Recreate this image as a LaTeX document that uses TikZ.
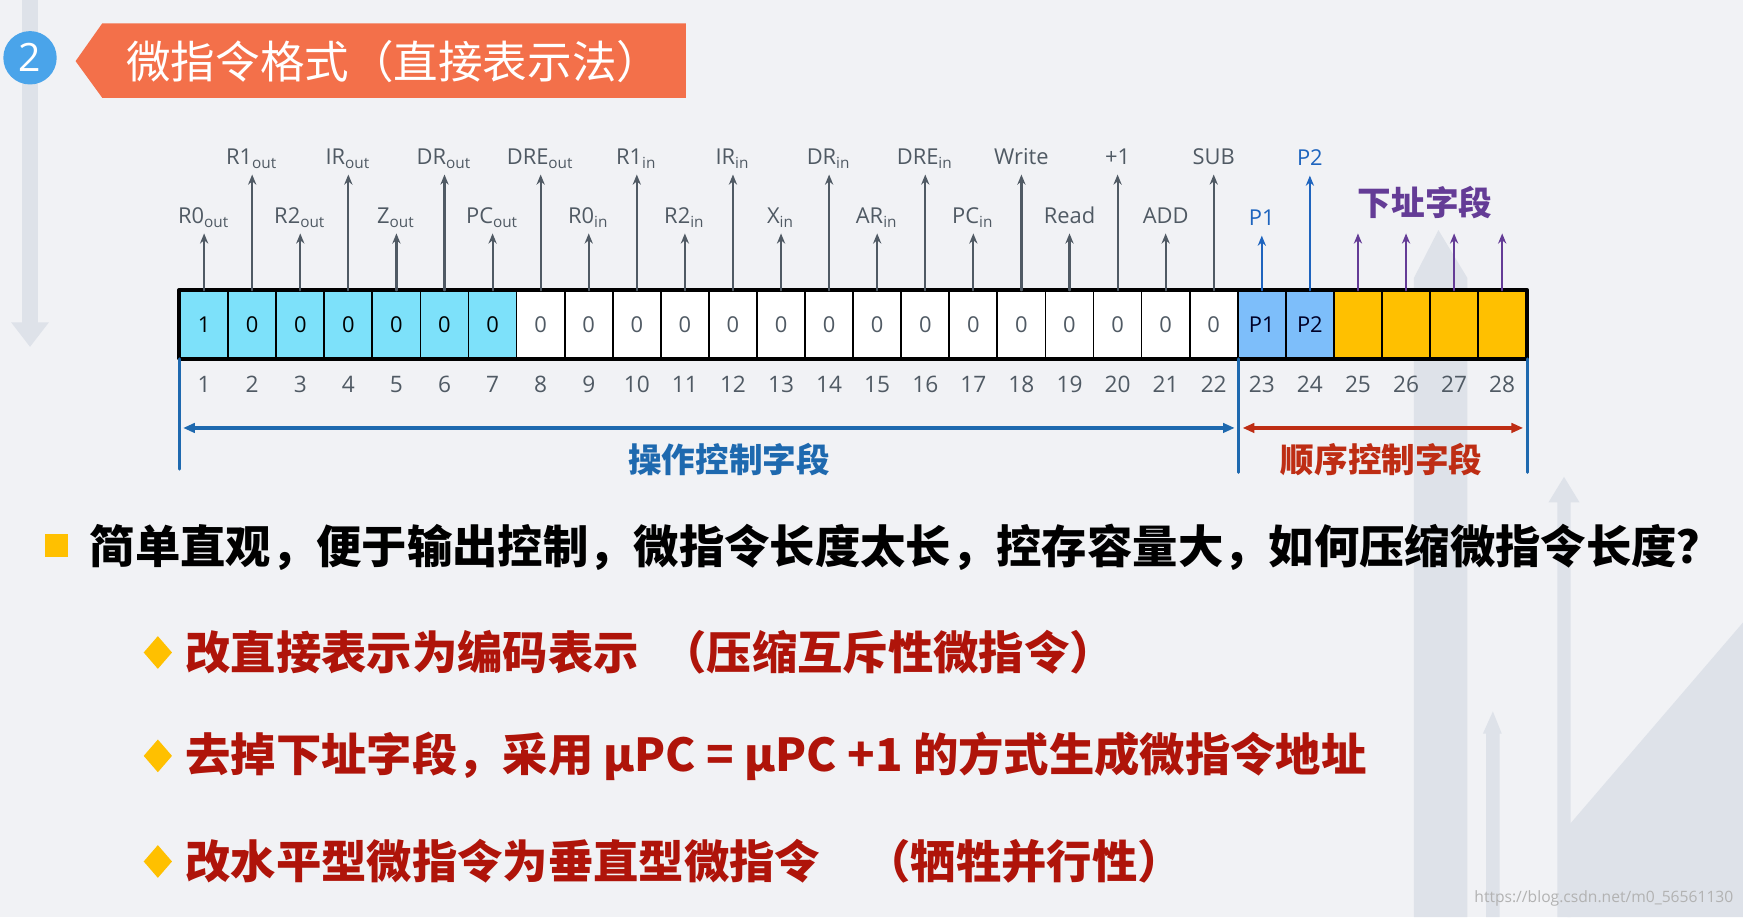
\documentclass[tikz,border=0pt]{standalone}
\usepackage{fontspec}
\setmainfont{Open Sans}
\newfontfamily\cjk{Noto Sans CJK SC}
\usetikzlibrary{arrows.meta,shapes.geometric}

\definecolor{bgcol}{RGB}{241,242,245}
\definecolor{decor}{RGB}{222,226,233}
\definecolor{banner}{RGB}{243,112,74}
\definecolor{badge}{RGB}{74,164,234}
\definecolor{sigcol}{RGB}{80,90,100}
\definecolor{cyancell}{RGB}{125,225,250}
\definecolor{pcell}{RGB}{125,190,250}
\definecolor{gold}{RGB}{255,192,0}
\definecolor{pblue}{RGB}{30,100,190}
\definecolor{addrcol}{RGB}{100,60,150}
\definecolor{opblue}{RGB}{30,105,175}
\definecolor{seqred}{RGB}{190,45,20}
\definecolor{darkred}{RGB}{175,20,10}

\begin{document}
\begin{tikzpicture}[
		x=0.01cm, y={(0cm,-0.01cm)},
		line cap=round,
		line join=round,
		cell/.style={draw, line width=0.45pt, minimum width=0.4325cm, minimum height=0.6cm,
			inner sep=0pt, font=\fontsize{5.6}{6}\selectfont},
		siglab/.style={anchor=south, inner sep=1pt, text=sigcol, text depth=1.3pt,
			font=\fontsize{5.6}{6}\selectfont},
		sig/.style={draw=sigcol, line width=0.55pt, -{Stealth[length=2.6pt,width=2.1pt]}},
		numlab/.style={text=sigcol, inner sep=0pt, font=\fontsize{5.8}{6}\selectfont},
		fieldname/.style={inner sep=0pt, font=\cjk\bfseries\fontsize{8.6}{9}\selectfont},
		bodytext/.style={anchor=west, inner sep=0pt, font=\cjk\bfseries\fontsize{11.6}{12}\selectfont},
		fieldline/.style={draw=opblue, line width=0.75pt}
		]
		% =========================
		% Register parameters
		% =========================
		\def\Xo{162}
		\def\W{43.25}
		
		% --------------------------------
		% Background
		% --------------------------------
		\fill[bgcol] (0,0) rectangle (1568,825);
		\useasboundingbox (0,0) rectangle (1568,825);
		\fill[decor] (20,0) rectangle (34,290) -- (44,290) -- (27,312) -- (10,290) -- (20,290) -- cycle;
		\fill[decor] (1272,825) -- (1272,250) -- (1294,207) -- (1320,250) -- (1320,825) -- cycle;
		\fill[decor] (1401,825) -- (1401,452) -- (1393,452) -- (1407,429) -- (1421,452) -- (1413,452) -- (1413,825) -- cycle;
		\fill[decor] (1337,825) -- (1337,660) -- (1334,660) -- (1343,640) -- (1351,660) -- (1349,660) -- (1349,825) -- cycle;
		\fill[decor] (1410,825) -- (1410,744) -- (1568,560) -- (1568,825) -- cycle;
		
		% --------------------------------
		% Heading
		% --------------------------------
		\fill[banner] (68,55) -- (92,21) -- (617,21) -- (617,88) -- (92,88) -- cycle;
		\node[circle, fill=badge, minimum size=0.48cm, inner sep=0pt, text=white,
		font=\fontsize{10}{11}\selectfont] (badge) at (27,52) {2};
		\node[anchor=west, inner sep=0pt, text=white, font=\cjk\fontsize{11.4}{12}\selectfont]
		(title) at (113,55) {微指令格式（直接表示法）};
		
		% --------------------------------
		% Register cells
		% --------------------------------
		\foreach \i/\bit in {1/1,2/0,3/0,4/0,5/0,6/0,7/0}
		\node[cell, fill=cyancell] (c\i) at ({\Xo+(\i-0.5)*\W},292) {\bit};
		\foreach \i in {8,...,22}
		\node[cell, fill=white, text=sigcol] (c\i) at ({\Xo+(\i-0.5)*\W},292) {0};
		\foreach \i/\bit in {23/P1,24/P2}
		\node[cell, fill=pcell, text=black!85!blue] (c\i) at ({\Xo+(\i-0.5)*\W},292) {\bit};
		\foreach \i in {25,...,28}
		\node[cell, fill=gold] (c\i) at ({\Xo+(\i-0.5)*\W},292) {};
		\draw[line width=1.1pt] (c1.north west) rectangle (c28.south east);
		
		% bit numbers
		\foreach \i in {1,...,28}
		\node[numlab] (n\i) at ({\Xo+(\i-0.5)*\W},346) {\i};
		
		% --------------------------------
		% Control signals
		% --------------------------------
		\foreach \i/\lab in {
			1/R0\textsubscript{out}, 2/R1\textsubscript{out}, 3/R2\textsubscript{out},
			4/IR\textsubscript{out}, 5/Z\textsubscript{out}, 6/DR\textsubscript{out},
			7/PC\textsubscript{out}, 8/DRE\textsubscript{out}, 9/R0\textsubscript{in},
			10/R1\textsubscript{in}, 11/R2\textsubscript{in}, 12/IR\textsubscript{in},
			13/X\textsubscript{in}, 14/DR\textsubscript{in}, 15/AR\textsubscript{in},
			16/DRE\textsubscript{in}, 17/PC\textsubscript{in}, 18/Write,
			19/Read, 20/+1, 21/ADD, 22/SUB}
		{
			\pgfmathsetmacro\ly{mod(\i,2)==1 ? 210 : 157}
			\node[siglab] (l\i) at ({\Xo+(\i-0.5)*\W},\ly) {\lab};
			\draw[sig] (c\i.north) -- (l\i.south);
		}
		
		% condition bits
		\node[siglab, text=pblue] (l23) at ({\Xo+22.5*\W},212) {P1};
		\node[siglab, text=pblue] (l24) at ({\Xo+23.5*\W},158) {P2};
		\foreach \i in {23,24}
		\draw[sig, draw=pblue] (c\i.north) -- (l\i.south);
		
		% next address bits
		\foreach \i in {25,...,28}
		{
			\coordinate (a\i) at ({\Xo+(\i-0.5)*\W},210);
			\draw[sig, draw=addrcol] (c\i.north) -- (a\i);
		}
		\node[fieldname, text=addrcol] (addr) at (1282,182) {下址字段};
		
		% --------------------------------
		% Field brackets
		% --------------------------------
		\coordinate (opL) at (c1.south west |- 0,422);
		\coordinate (opR) at (c22.south east |- 0,425);
		\coordinate (sqR) at (c28.south east |- 0,425);
		\draw[fieldline] (c1.south west) -- (opL);
		\draw[fieldline] (c22.south east) -- (opR);
		\draw[fieldline] (c28.south east) -- (sqR);
		
		\coordinate (opA) at (c1.south west |- 0,385);
		\coordinate (opB) at (c22.south east |- 0,385);
		\coordinate (sqB) at (c28.south east |- 0,385);
		\draw[opblue, line width=0.8pt, {Triangle[length=3pt,width=2.4pt]}-{Triangle[length=3pt,width=2.4pt]}]
		([xshift=1pt]opA) -- ([xshift=-1pt]opB);
		\draw[seqred, line width=0.8pt, {Triangle[length=3pt,width=2.4pt]}-{Triangle[length=3pt,width=2.4pt]}]
		([xshift=1pt]opB) -- ([xshift=-1pt]sqB);
		\node[fieldname, text=opblue] (opname) at (656,413) {操作控制字段};
		\node[fieldname, text=seqred] (sqname) at (1243,413) {顺序控制字段};
		
		% --------------------------------
		% Remarks
		% --------------------------------
		\node[fill=gold, minimum size=0.21cm, inner sep=0pt] (sq) at (51,491) {};
		\node[bodytext] (q1) at (80,492) {简单直观，便于输出控制，微指令长度太长，控存容量大，如何压缩微指令长度？};
		
		\foreach \k/\y in {1/587,2/680,3/775}
		\node[diamond, fill=gold, minimum width=0.26cm, minimum height=0.3cm, inner sep=0pt] (d\k) at (142,\y) {};
		\node[bodytext, text=darkred] (r1) at (166,587) {改直接表示为编码表示\hspace{0.5em}（压缩互斥性微指令）};
		\node[bodytext, text=darkred] (r2) at (166,680) {去掉下址字段，采用 μPC = μPC +1 的方式生成微指令地址};
		\node[bodytext, text=darkred] (r3) at (166,775) {改水平型微指令为垂直型微指令\hspace{1em}（牺牲并行性）};
		
		\node[anchor=east, inner sep=0pt, text=gray!60, font=\fontsize{4}{5}\selectfont]
		(mark) at (1560,808) {https://blog.csdn.net/m0\_56561130};
		
	\end{tikzpicture}
\end{document}
